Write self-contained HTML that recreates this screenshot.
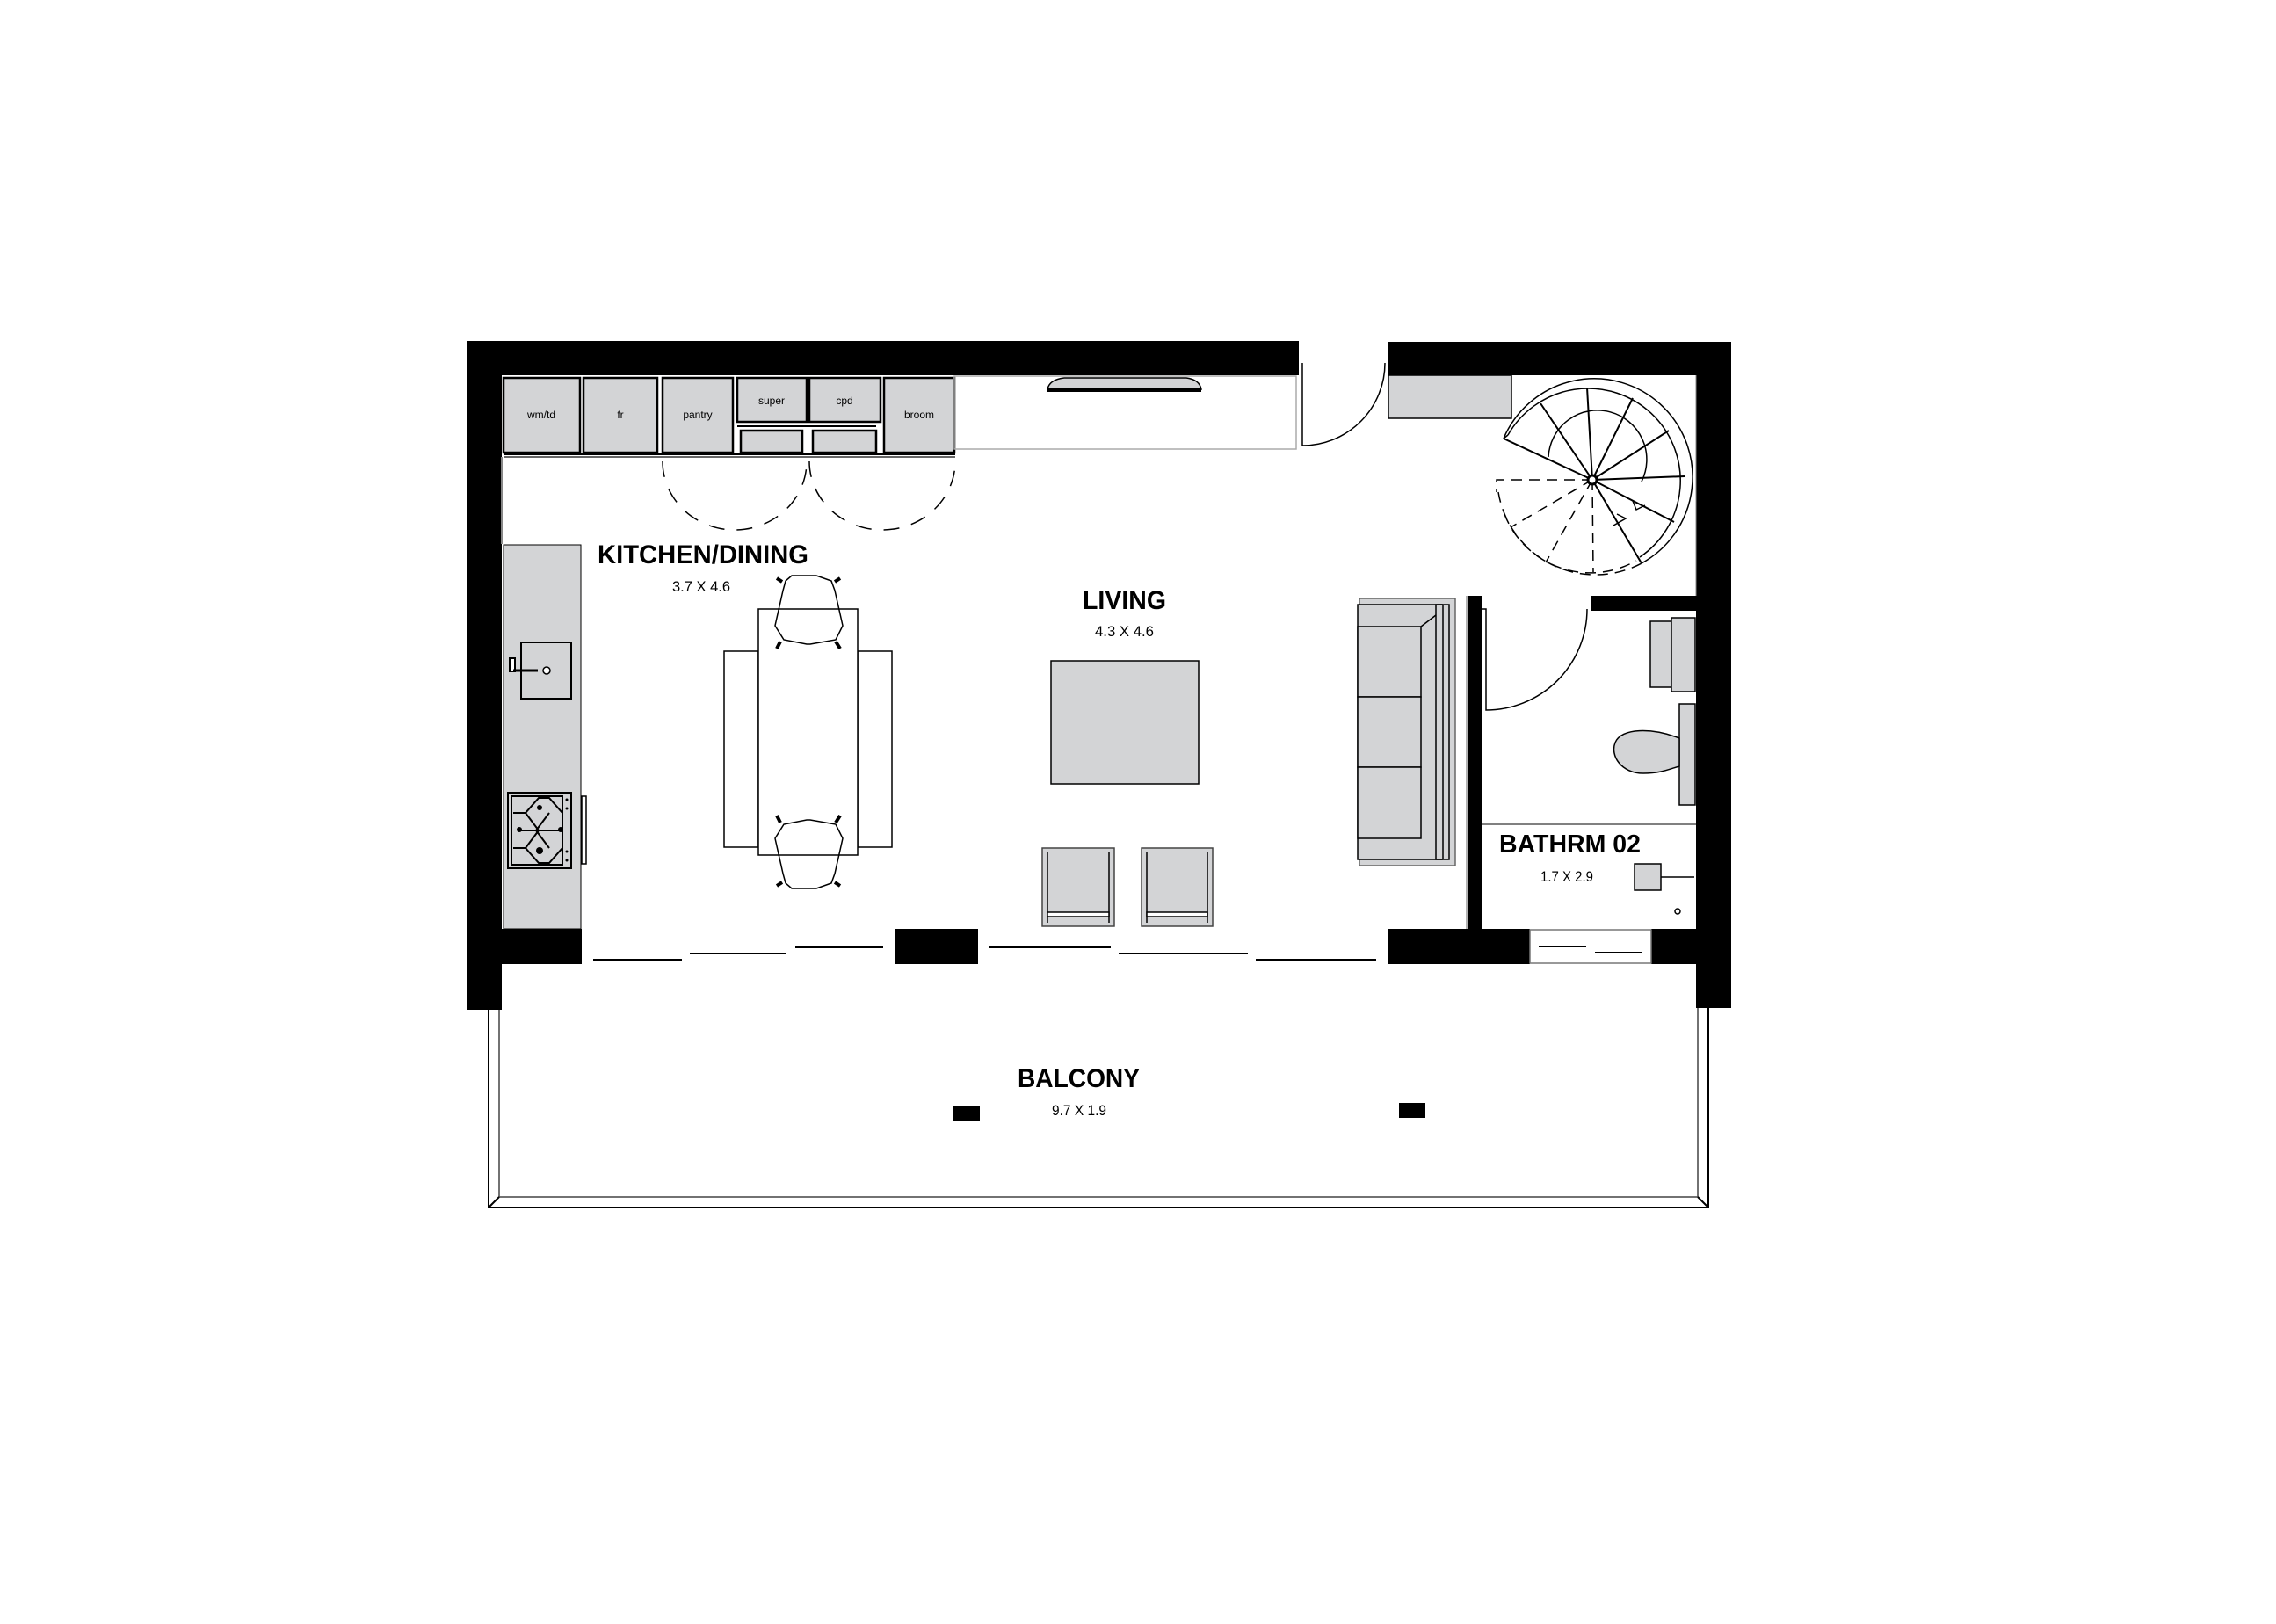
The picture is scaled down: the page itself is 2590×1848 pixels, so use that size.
<!DOCTYPE html>
<html><head><meta charset="utf-8"><style>
html,body{margin:0;padding:0;background:#fff;}
svg{display:block;}
.t{font-family:"Liberation Sans",sans-serif;}
</style></head><body>
<svg width="2590" height="1848" viewBox="0 0 2590 1848" xmlns="http://www.w3.org/2000/svg">
<rect width="2590" height="1848" fill="#fff"/>
<!-- balcony -->
<g fill="none" stroke="#000" stroke-width="2">
<path d="M556,1147 L556,1374 L1944,1374 L1944,1147"/>
<path d="M568,1147 L568,1362 L1932,1362 L1932,1147" stroke="#444" stroke-width="1.5"/>
<path d="M556,1374 L568,1362 M1944,1374 L1932,1362"/>
</g>
<rect x="1085" y="1259" width="30" height="17" fill="#000"/>
<rect x="1592" y="1255" width="30" height="17" fill="#000"/>
<!-- walls -->
<g fill="#000">
<rect x="531" y="388" width="947" height="39"/>
<rect x="1579" y="389" width="391" height="38"/>
<rect x="531" y="388" width="40" height="761"/>
<rect x="1930" y="389" width="40" height="758"/>
<rect x="531" y="1057" width="131" height="40"/>
<rect x="1018" y="1057" width="95" height="40"/>
<rect x="1579" y="1057" width="162" height="40"/>
<rect x="1879" y="1057" width="91" height="40"/>
<rect x="1671" y="678" width="15" height="380"/>
<rect x="1810" y="678" width="120" height="17"/>
</g>
<line x1="1669" y1="678" x2="1669" y2="1057" stroke="#999" stroke-width="1.5"/>
<!-- bath window -->
<rect x="1741" y="1058" width="138" height="38" fill="#fff" stroke="#777" stroke-width="1.5"/>
<g stroke="#000" stroke-width="2">
<line x1="1751" y1="1077" x2="1805" y2="1077"/><line x1="1815" y1="1084" x2="1869" y2="1084"/>
<!-- living windows -->
<line x1="675" y1="1092" x2="776" y2="1092"/><line x1="785" y1="1085" x2="895" y2="1085"/><line x1="905" y1="1078" x2="1005" y2="1078"/>
<line x1="1126" y1="1078" x2="1264" y2="1078"/><line x1="1273" y1="1085" x2="1420" y2="1085"/><line x1="1429" y1="1092" x2="1566" y2="1092"/>
</g>
<!-- cabinets -->
<g fill="#d3d4d6" stroke="#000" stroke-width="2.5">
<rect x="573" y="430" width="87" height="85"/>
<rect x="664" y="430" width="84" height="85"/>
<rect x="754" y="430" width="80" height="85"/>
<rect x="839" y="430" width="79" height="50"/>
<rect x="921" y="430" width="81" height="50"/>
<rect x="843" y="490" width="70" height="25"/>
<rect x="925" y="490" width="72" height="25"/>
<rect x="1006" y="430" width="80" height="85"/>
</g>
<g stroke="#000" stroke-width="2" fill="none">
<line x1="573" y1="517" x2="1087" y2="517"/><line x1="573" y1="520" x2="1087" y2="520" stroke="#666"/>
<line x1="839" y1="485" x2="997" y2="485"/>
</g>
<line x1="571" y1="520" x2="571" y2="619" stroke="#888" stroke-width="2"/>
<g class="t" font-size="12" text-anchor="middle" fill="#000">
<text x="616" y="476">wm/td</text><text x="706" y="476">fr</text><text x="794" y="476">pantry</text>
<text x="878" y="460">super</text><text x="961" y="460">cpd</text><text x="1046" y="476">broom</text>
<text x="616" y="676">dw</text><text x="1282" y="441" font-size="10">tv</text>
</g>
<!-- tv niche -->
<rect x="1086" y="428" width="389" height="83" fill="none" stroke="#aaa" stroke-width="1.5"/>
<path d="M1211,430 L1350,430 Q1365,432 1367,443 L1192,443 Q1194,432 1211,430 Z" fill="#d3d4d6" stroke="#000" stroke-width="1.5"/>
<rect x="1192" y="442" width="175" height="4" fill="#000"/>
<!-- entry door -->
<path d="M1482,413 L1482,507 A94,94 0 0 0 1576,413" fill="none" stroke="#000" stroke-width="1.5"/>
<!-- cabinet door swings -->
<g fill="none" stroke="#000" stroke-width="1.5" stroke-dasharray="18,14">
<path d="M754,525 A82,78 0 0 0 918,525"/>
<path d="M921,525 A83,78 0 0 0 1087,525"/>
</g>
<!-- counter -->
<rect x="573" y="620" width="88" height="437" fill="#d3d4d6" stroke="#000" stroke-width="1"/>
<rect x="593" y="731" width="57" height="64" fill="#d3d4d6" stroke="#000" stroke-width="2"/>
<rect x="580" y="749" width="6" height="15" fill="#fff" stroke="#000" stroke-width="2"/>
<line x1="584" y1="763" x2="612" y2="763" stroke="#000" stroke-width="3"/>
<circle cx="622" cy="763" r="4" fill="#fff" stroke="#000" stroke-width="1.5"/>
<rect x="578" y="902" width="72" height="86" fill="#d3d4d6" stroke="#000" stroke-width="2"/>
<g fill="none" stroke="#000" stroke-width="2">
<rect x="582" y="906" width="58" height="78"/>
<path d="M584,925 L598,925 L613,908 L625,908 L640,925 M584,965 L598,965 L613,982 L625,982 L640,965 M598,925 L613,945 L598,965 M625,925 L610,945 L625,965 M613,908 L598,925 M590,945 L640,945"/>
</g>
<g fill="#000"><circle cx="614" cy="919" r="3"/><circle cx="591" cy="944" r="3"/><circle cx="638" cy="944" r="3"/><circle cx="614" cy="968" r="4"/>
<circle cx="645" cy="910" r="1.5"/><circle cx="645" cy="920" r="1.5"/><circle cx="645" cy="969" r="1.5"/><circle cx="645" cy="979" r="1.5"/></g>
<rect x="662" y="906" width="5" height="77" fill="#fff" stroke="#000" stroke-width="1.5"/>
<!-- dining -->
<g fill="#fff" stroke="#000" stroke-width="1.5">
<rect x="824" y="741" width="39" height="223"/>
<rect x="976" y="741" width="39" height="223"/>
<rect x="863" y="693" width="113" height="280"/>
<path d="M901,655 L929,655 L946,661 L950,672 L959,712 L951,728 L922,733 L918,733 L892,728 L882,712 L891,672 L894,661 Z" fill="none"/>
<path d="M901,1011 L929,1011 L946,1005 L950,994 L959,954 L951,938 L922,933 L918,933 L892,938 L882,954 L891,994 L894,1005 Z" fill="none"/>
<path d="M890,662 L884,658 M950,662 L956,658 M888,730 L884,738 M951,730 L956,738 M888,936 L884,928 M951,936 L956,928 M890,1004 L884,1008 M950,1004 L956,1008" stroke-width="4"/>
</g>
<!-- living -->
<rect x="1196" y="752" width="168" height="140" fill="#d3d4d6" stroke="#000" stroke-width="1.5"/>
<g stroke="#000" stroke-width="1.5">
<rect x="1186" y="965" width="82" height="89" fill="#d3d4d6" stroke="#444"/>
<rect x="1299" y="965" width="81" height="89" fill="#d3d4d6" stroke="#444"/>
<line x1="1192" y1="970" x2="1192" y2="1050"/><line x1="1262" y1="970" x2="1262" y2="1050"/>
<line x1="1305" y1="970" x2="1305" y2="1050"/><line x1="1374" y1="970" x2="1374" y2="1050"/>
<rect x="1192" y="1038" width="70" height="5" fill="#fff"/><rect x="1305" y="1038" width="69" height="5" fill="#fff"/>
</g>
<!-- sofa -->
<g stroke="#000" stroke-width="1.5">
<rect x="1547" y="681" width="109" height="304" fill="#d3d4d6" stroke="#666"/>
<rect x="1545" y="688" width="96" height="290" fill="#d3d4d6"/>
<rect x="1634" y="688" width="15" height="290" fill="#d3d4d6"/>
<line x1="1642" y1="688" x2="1642" y2="978"/>
<rect x="1545" y="713" width="72" height="80" fill="#d3d4d6"/>
<rect x="1545" y="793" width="72" height="80" fill="#d3d4d6"/>
<rect x="1545" y="873" width="72" height="81" fill="#d3d4d6"/>
<line x1="1617" y1="713" x2="1634" y2="700"/>
</g>
<!-- top right cabinet -->
<rect x="1580" y="427" width="140" height="49" fill="#d3d4d6" stroke="#000" stroke-width="1.5"/>
<line x1="1930" y1="427" x2="1930" y2="678" stroke="#888"/>
<!-- stair -->
<g fill="none" stroke="#000" stroke-width="1.5">
<path d="M1711,499 A112,112 0 1 1 1868,641"/>
<path d="M1716,495 A105,105 0 1 1 1866,634"/>
<path d="M1711,499 L1716,495"/>
<path d="M1762,520 A56,56 0 1 1 1868,548"/>
<path d="M1812,546 L1711,499 M1812,546 L1753,459 M1812,546 L1806,441 M1812,546 L1858,453 M1812,546 L1899,490 M1812,546 L1917,542 M1812,546 L1905,594 M1812,546 L1868,641" stroke-width="2"/>
<g stroke-dasharray="12,8">
<path d="M1812,546 L1703,546 L1703,560 M1812,546 L1719,600 M1812,546 L1759,640 M1812,546 L1813,651"/>
<path d="M1705,560 A112,112 0 0 0 1868,641"/>
<path d="M1712,585 A105,105 0 0 0 1862,638"/>
</g>
<path d="M1858,570 L1862,580 L1872,575 M1840,585 L1850,590 L1836,598"/>
</g>
<circle cx="1812" cy="546" r="5" fill="#fff" stroke="#000" stroke-width="3"/>
<!-- bathroom -->
<path d="M1686,693 L1691,693 L1691,808 A115,115 0 0 0 1806,693" fill="none" stroke="#000" stroke-width="1.5"/>
<g fill="#d3d4d6" stroke="#000" stroke-width="1.5">
<rect x="1878" y="707" width="24" height="75"/>
<rect x="1902" y="703" width="27" height="84"/>
<rect x="1911" y="801" width="18" height="115"/>
<path d="M1911,840 C1880,828 1845,828 1838,845 C1832,860 1845,880 1870,880 C1890,880 1900,875 1911,872 Z"/>
<rect x="1860" y="983" width="30" height="30"/>
</g>
<line x1="1686" y1="938" x2="1930" y2="938" stroke="#000" stroke-width="1"/>
<line x1="1890" y1="998" x2="1928" y2="998" stroke="#000" stroke-width="1.5"/>
<circle cx="1909" cy="1037" r="3" fill="none" stroke="#000" stroke-width="1.5"/>
<!-- labels -->
<g class="t" font-weight="bold" fill="#000">
<text x="680" y="641" font-size="30" textLength="240" lengthAdjust="spacingAndGlyphs">KITCHEN/DINING</text>
<text x="1232" y="693" font-size="30" textLength="95" lengthAdjust="spacingAndGlyphs">LIVING</text>
<text x="1158" y="1237" font-size="30" textLength="139" lengthAdjust="spacingAndGlyphs">BALCONY</text>
<text x="1706" y="970" font-size="29" textLength="161" lengthAdjust="spacingAndGlyphs">BATHRM 02</text>
</g>
<g class="t" font-size="17" fill="#000">
<text x="765" y="673" textLength="66" lengthAdjust="spacingAndGlyphs">3.7 X 4.6</text>
<text x="1246" y="724" textLength="67" lengthAdjust="spacingAndGlyphs">4.3 X 4.6</text>
<text x="1197" y="1269" textLength="62" lengthAdjust="spacingAndGlyphs">9.7 X 1.9</text>
<text x="1753" y="1003" textLength="60" lengthAdjust="spacingAndGlyphs">1.7 X 2.9</text>
</g>
</svg>
</body></html>
